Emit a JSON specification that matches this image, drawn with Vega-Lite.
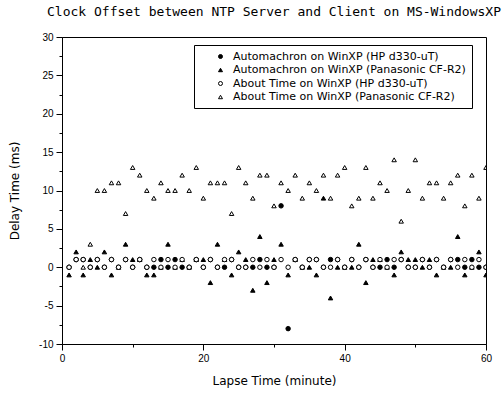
{
  "$schema": "https://vega.github.io/schema/vega-lite/v6.json",
  "width": 424,
  "height": 307,
  "autosize": {"type": "none"},
  "padding": {"left": 62, "top": 37, "right": 18, "bottom": 54},
  "background": "white",
  "title": {
    "text": "Clock Offset between NTP Server and Client on MS-WindowsXP",
    "font": "DejaVu Sans Mono",
    "fontSize": 13,
    "fontWeight": "normal",
    "color": "black",
    "anchor": "middle",
    "offset": 13
  },
  "data": {
    "values": [
      {"m": 1, "A": 0, "B": -1, "C": 0, "D": null},
      {"m": 2, "A": 1, "B": 2, "C": 1, "D": null},
      {"m": 3, "A": 1, "B": -1, "C": 1, "D": 0},
      {"m": 4, "A": 0, "B": 1, "C": 0, "D": 3},
      {"m": 5, "A": 1, "B": 0, "C": 1, "D": 10},
      {"m": 6, "A": 0, "B": 2, "C": 0, "D": 10},
      {"m": 7, "A": 1, "B": -1, "C": 1, "D": 11},
      {"m": 8, "A": 0, "B": 0, "C": 0, "D": 11},
      {"m": 9, "A": 1, "B": 3, "C": 1, "D": 7},
      {"m": 10, "A": 0, "B": 1, "C": 0, "D": 13},
      {"m": 11, "A": 1, "B": 1, "C": 1, "D": 12},
      {"m": 12, "A": 0, "B": -1, "C": 0, "D": 10},
      {"m": 13, "A": 0, "B": -1, "C": 1, "D": 9},
      {"m": 14, "A": 1, "B": 0, "C": 0, "D": 11},
      {"m": 15, "A": 0, "B": 3, "C": 1, "D": 10},
      {"m": 16, "A": 1, "B": 0, "C": 0, "D": 10},
      {"m": 17, "A": 0, "B": 1, "C": 1, "D": 12},
      {"m": 18, "A": 0, "B": 0, "C": 0, "D": 10},
      {"m": 19, "A": 1, "B": 1, "C": 1, "D": 13},
      {"m": 20, "A": 0, "B": 1, "C": 0, "D": 9},
      {"m": 21, "A": 1, "B": -2, "C": 1, "D": 11},
      {"m": 22, "A": 0, "B": 3, "C": 0, "D": 11},
      {"m": 23, "A": 0, "B": 1, "C": 1, "D": 11},
      {"m": 24, "A": 1, "B": -1, "C": 1, "D": 7},
      {"m": 25, "A": 0, "B": 2, "C": 0, "D": 13},
      {"m": 26, "A": 0, "B": 1, "C": 0, "D": 11},
      {"m": 27, "A": 0, "B": -3, "C": 1, "D": 9},
      {"m": 28, "A": 1, "B": 4, "C": 0, "D": 12},
      {"m": 29, "A": 0, "B": -2, "C": 1, "D": 12},
      {"m": 30, "A": 0, "B": 1, "C": 0, "D": 8},
      {"m": 31, "A": 8, "B": 3, "C": 1, "D": 11},
      {"m": 32, "A": -8, "B": -1, "C": 0, "D": 10},
      {"m": 33, "A": 1, "B": 1, "C": 1, "D": 12},
      {"m": 34, "A": 0, "B": 0, "C": 0, "D": 9},
      {"m": 35, "A": 1, "B": 0, "C": 1, "D": 11},
      {"m": 36, "A": 1, "B": -1, "C": 1, "D": 10},
      {"m": 37, "A": 0, "B": 9, "C": 0, "D": 12},
      {"m": 38, "A": 1, "B": -4, "C": 0, "D": 9},
      {"m": 39, "A": 1, "B": 0, "C": 1, "D": 12},
      {"m": 40, "A": 0, "B": 0, "C": 0, "D": 13},
      {"m": 41, "A": 1, "B": 0, "C": 1, "D": 8},
      {"m": 42, "A": 0, "B": 3, "C": 0, "D": 9},
      {"m": 43, "A": 1, "B": -2, "C": 1, "D": 13},
      {"m": 44, "A": 0, "B": 1, "C": 0, "D": 9},
      {"m": 45, "A": 0, "B": 1, "C": 1, "D": 11},
      {"m": 46, "A": 1, "B": 0, "C": 0, "D": 10},
      {"m": 47, "A": 0, "B": -1, "C": 1, "D": 14},
      {"m": 48, "A": 1, "B": 2, "C": 1, "D": 6},
      {"m": 49, "A": 0, "B": 1, "C": 0, "D": 10},
      {"m": 50, "A": 0, "B": 1, "C": 0, "D": 14},
      {"m": 51, "A": 1, "B": 0, "C": 1, "D": 9},
      {"m": 52, "A": 0, "B": 1, "C": 0, "D": 11},
      {"m": 53, "A": 1, "B": -1, "C": 1, "D": 11},
      {"m": 54, "A": 0, "B": 0, "C": 0, "D": 9},
      {"m": 55, "A": 1, "B": 0, "C": 1, "D": 11},
      {"m": 56, "A": 1, "B": 4, "C": 0, "D": 12},
      {"m": 57, "A": 0, "B": -1, "C": 1, "D": 8},
      {"m": 58, "A": 1, "B": 0, "C": 0, "D": 12},
      {"m": 59, "A": 0, "B": 2, "C": 1, "D": 9},
      {"m": 60, "A": 0, "B": -1, "C": 0, "D": 13}
    ]
  },
  "transform": [
    {"fold": ["A", "B", "C", "D"], "as": ["s", "v"]}
  ],
  "mark": {"type": "point", "filled": true, "strokeWidth": 1, "opacity": 1, "size": 20, "clip": true},
  "encoding": {
    "x": {
      "field": "m", "type": "quantitative",
      "scale": {"domain": [0, 60], "nice": false, "zero": false},
      "axis": {
        "title": "Lapse Time (minute)",
        "values": [0, 10, 20, 30, 40, 50, 60],
        "labelExpr": "datum.value % 20 === 0 ? datum.label : ''",
        "tickSize": {"condition": {"test": "datum.value % 20 === 0", "value": 6}, "value": 3},
        "labelFlush": false,
        "labelFontSize": 10,
        "labelPadding": 3,
        "titleFont": "DejaVu Sans",
        "titleFontSize": 12,
        "titlePadding": 12
      }
    },
    "y": {
      "field": "v", "type": "quantitative",
      "scale": {"domain": [-10, 30], "nice": false, "zero": false},
      "axis": {
        "title": "Delay Time (ms)",
        "values": [-10, -7.5, -5, -2.5, 0, 2.5, 5, 7.5, 10, 12.5, 15, 17.5, 20, 22.5, 25, 27.5, 30],
        "labelExpr": "datum.value % 5 === 0 ? (datum.value < 0 ? '-' + abs(datum.value) : datum.label) : ''",
        "tickSize": {"condition": {"test": "datum.value % 5 === 0", "value": 6}, "value": 3},
        "labelFontSize": 10,
        "labelPadding": 3,
        "titleFont": "DejaVu Sans",
        "titleFontSize": 12,
        "titlePadding": 17
      }
    },
    "shape": {
      "field": "s", "type": "nominal",
      "scale": {"domain": ["A", "B", "C", "D"], "range": ["circle", "triangle-up", "circle", "triangle-up"]},
      "legend": {"labelExpr": "datum.value === 'A' ? 'Automachron on WinXP (HP d330-uT)' : datum.value === 'B' ? 'Automachron on WinXP (Panasonic CF-R2)' : datum.value === 'C' ? 'About Time on WinXP (HP d330-uT)' : 'About Time on WinXP (Panasonic CF-R2)'"}
    },
    "fill": {
      "field": "s", "type": "nominal",
      "scale": {"domain": ["A", "B", "C", "D"], "range": ["black", "black", "white", "white"]},
      "legend": {"labelExpr": "datum.value === 'A' ? 'Automachron on WinXP (HP d330-uT)' : datum.value === 'B' ? 'Automachron on WinXP (Panasonic CF-R2)' : datum.value === 'C' ? 'About Time on WinXP (HP d330-uT)' : 'About Time on WinXP (Panasonic CF-R2)'"}
    },
    "stroke": {
      "field": "s", "type": "nominal",
      "scale": {"domain": ["A", "B", "C", "D"], "range": ["black", "black", "black", "black"]},
      "legend": {"labelExpr": "datum.value === 'A' ? 'Automachron on WinXP (HP d330-uT)' : datum.value === 'B' ? 'Automachron on WinXP (Panasonic CF-R2)' : datum.value === 'C' ? 'About Time on WinXP (HP d330-uT)' : 'About Time on WinXP (Panasonic CF-R2)'"}
    }
  },
  "config": {
    "view": {"stroke": "black", "strokeWidth": 1},
    "axis": {
      "grid": false,
      "domainColor": "black",
      "tickColor": "black",
      "labelColor": "black",
      "titleColor": "black",
      "labelFont": "Liberation Sans",
      "titleFontWeight": "normal"
    },
    "legend": {
      "title": null,
      "orient": "none",
      "legendX": 132,
      "legendY": 8,
      "direction": "vertical",
      "strokeColor": "black",
      "fillColor": "white",
      "padding": 6,
      "rowPadding": 1.5,
      "labelFont": "DejaVu Sans",
      "labelFontSize": 11,
      "labelColor": "black",
      "labelOffset": 7,
      "labelLimit": 400,
      "symbolOffset": 15,
      "symbolSize": 16,
      "symbolStrokeWidth": 1
    }
  }
}
